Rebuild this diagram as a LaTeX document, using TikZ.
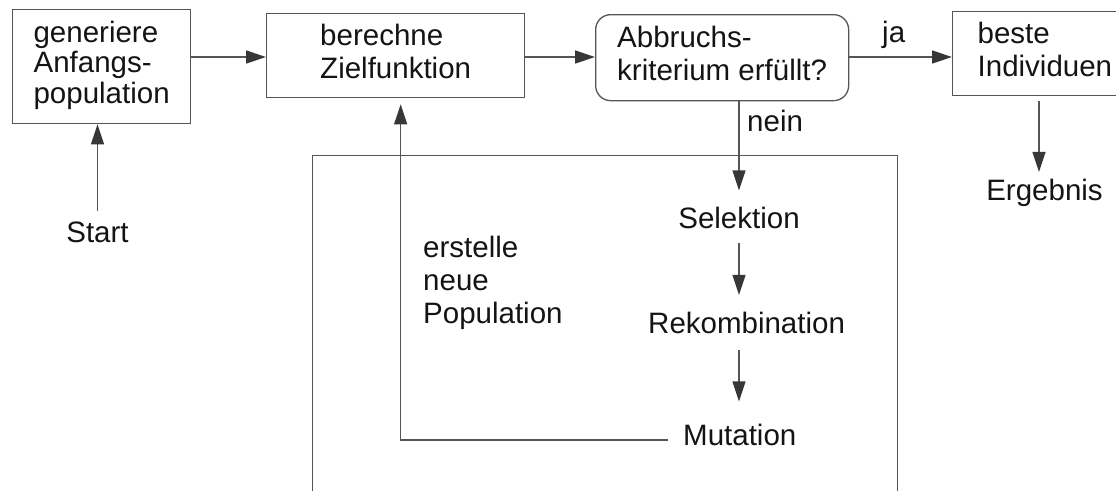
\documentclass[tikz,border=0pt]{standalone}
\usepackage{fontspec}
\setmainfont{Liberation Sans}
\usetikzlibrary{arrows.meta,calc}
\definecolor{linegray}{RGB}{85,85,85}
\definecolor{tipgray}{RGB}{55,55,55}
\definecolor{ink}{RGB}{20,20,20}
\tikzset{
  every node/.style={text=ink, font=\fontsize{29.5}{33}\selectfont},
  stepbox/.style={draw=linegray, line width=1.3pt, inner sep=0pt, align=left, anchor=north west},
  decision/.style={stepbox, rounded corners=15pt},
  lbl/.style={inner sep=0pt, anchor=base west},
  arr/.style={draw=linegray, line width=1.3pt,
    -{Triangle[length=20pt,width=13pt,color=tipgray]}},
}
\begin{document}
\begin{tikzpicture}[x=1pt, y=-1pt]
  \useasboundingbox (0,0) rectangle (1116,490);
  \clip (0,0) rectangle (1116,490);
  \fill[white] (0,0) rectangle (1116,490);

  % main row
  \node[stepbox, minimum width=178pt, minimum height=114pt,
        font=\fontsize{29.5}{30.5}\selectfont] (init) at (12,9)
        {\strut generiere\\Anfangs-\\population\strut};
  \node[stepbox, minimum width=258pt, minimum height=84pt] (eval) at (266,13)
        {\strut berechne\\Zielfunktion\strut};
  \node[decision, minimum width=253pt, minimum height=86pt] (test) at (595,14)
        {\strut Abbruchs-\\kriterium erfüllt?\strut};
  \node[stepbox, text width=140pt, inner xsep=25pt, minimum height=84pt] (best) at (952,11)
        {\strut beste\\Individuen\strut};

  % loop frame
  \node[draw=linegray, line width=1.3pt, inner sep=0pt, anchor=north west,
        minimum width=585pt, minimum height=360pt] (loop) at (312,155) {};

  % labels
  \node[lbl] (ja) at (882,42) {ja};
  \node[lbl] (nein) at (747,131) {nein};
  \node[inner sep=0pt, anchor=base] (start) at (97.5,242) {Start};
  \node[inner sep=0pt, anchor=base] (erg) at (1044.5,200) {Ergebnis};
  \node[inner sep=0pt, anchor=base] (sel) at (739,228) {Selektion};
  \node[lbl] (rek) at (648,333) {Rekombination};
  \node[lbl] (mut) at (683,445) {Mutation};
  \node[inner sep=0pt, anchor=north west, align=left] (newpop) at (423,234)
        {\strut erstelle\\neue\\Population};

  % helper points
  \coordinate (row) at (0,57);
  \coordinate (ergtop) at ([xshift=-5.5pt]erg.north);
  \coordinate (retin) at ([xshift=5pt]eval.south);

  % connectors
  \draw[arr, shorten <=10.5pt] (start.north) -- (start.north |- init.south);
  \draw[arr] (init.east |- row) -- (eval.west |- row);
  \draw[arr] (eval.east |- row) -- (test.west |- row);
  \draw[arr] (test.east |- row) -- (best.west |- row);
  \draw[arr, shorten <=5pt, shorten >=6.5pt] (ergtop |- best.south) -- (ergtop);
  \draw[arr, shorten >=16pt] (sel.north |- test.south) -- (sel.north);
  \draw[arr, shorten <=15pt, shorten >=16.5pt] (sel.south) -- (sel.south |- rek.north);
  \draw[arr, shorten <=17pt, shorten >=22pt] (sel.south |- rek.south) -- (sel.south |- mut.north);
  \draw[arr, shorten <=15pt, shorten >=6pt] ([yshift=-5.5pt]mut.west) -| (retin);
\end{tikzpicture}
\end{document}
